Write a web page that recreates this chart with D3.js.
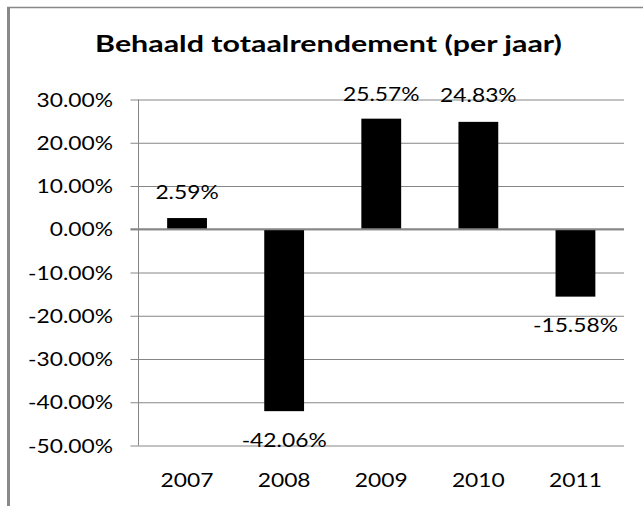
<!DOCTYPE html>
<html>
<head>
<meta charset="utf-8">
<script src="https://cdn.jsdelivr.net/npm/d3@7"></script>
<style>
  html, body { margin: 0; padding: 0; background: #fff; }
  svg { display: block; }
</style>
</head>
<body>
<div id="root"></div>
<script>
// Chart data
var years = ['2007', '2008', '2009', '2010', '2011'];
var returns = [2.59, -42.06, 25.57, 24.83, -15.58];
var yTicks = [30, 20, 10, 0, -10, -20, -30, -40, -50];
var title = 'Behaald totaalrendement (per jaar)';

var width = 643, height = 506;
var plot = { left: 138.5, right: 624, top: 99.5, bottom: 445.5 };
var font = 'Lato, "Open Sans", sans-serif';
var stretch = 1.14;

var svg = d3.select('#root')
  .append('svg')
  .attr('width', width)
  .attr('height', height);

// chart frame (only top and left are visible in the crop)
svg.append('line')
  .attr('x1', 7).attr('x2', width)
  .attr('y1', 7.5).attr('y2', 7.5)
  .attr('stroke', '#888').attr('stroke-width', 1.5);
svg.append('line')
  .attr('x1', 8.5).attr('x2', 8.5)
  .attr('y1', 7).attr('y2', height)
  .attr('stroke', '#888').attr('stroke-width', 3);

var x = d3.scaleBand()
  .domain(years)
  .range([plot.left, plot.right])
  .paddingInner(0.59)
  .paddingOuter(0.295);

var y = d3.scaleLinear()
  .domain([-50, 30])
  .range([plot.bottom, plot.top]);

// helper: text squeezed/stretched horizontally around its anchor
function label(g, tx, ty, txt, anchor, size, weight, sx) {
  return g.append('text')
    .attr('transform', 'translate(' + tx + ',' + ty + ') scale(' + sx + ',1)')
    .attr('text-anchor', anchor)
    .attr('font-family', font)
    .attr('font-size', size)
    .attr('font-weight', weight || 'normal')
    .attr('fill', '#000')
    .text(txt);
}

// gridlines + tick marks
var yAxis = d3.axisLeft(y)
  .tickValues(yTicks)
  .tickSize(-(plot.right - plot.left))
  .tickFormat('');
var gAxis = svg.append('g')
  .attr('transform', 'translate(' + plot.left + ',0)')
  .call(yAxis);
gAxis.select('.domain').remove();
gAxis.selectAll('.tick line')
  .attr('x1', -8)
  .attr('stroke', '#868686')
  .attr('stroke-width', 1);

// vertical axis line
svg.append('line')
  .attr('x1', plot.left).attr('x2', plot.left)
  .attr('y1', y(30)).attr('y2', y(-50))
  .attr('stroke', '#868686');

// y tick labels
var gy = svg.append('g');
yTicks.forEach(function (t) {
  label(gy, 113, y(t) + 7, t.toFixed(2) + '%', 'end', 20, 'normal', stretch);
});

// bars
svg.selectAll('.bar')
  .data(years)
  .enter()
  .append('rect')
  .attr('class', 'bar')
  .attr('x', d => x(d))
  .attr('width', x.bandwidth())
  .attr('y', (d, i) => y(Math.max(0, returns[i])))
  .attr('height', (d, i) => Math.abs(y(returns[i]) - y(0)))
  .attr('fill', '#000');

// zero line on top of bars
svg.append('line')
  .attr('x1', plot.left - 8).attr('x2', plot.right)
  .attr('y1', y(0)).attr('y2', y(0))
  .attr('stroke', '#868686')
  .attr('stroke-width', 2);

// data labels (outside end)
var gl = svg.append('g');
years.forEach(function (d, i) {
  var v = returns[i];
  var cx = x(d) + x.bandwidth() / 2;
  var ty = v >= 0
    ? Math.max(y(v) - 19.5, y(30) + 1.5)
    : y(v) + 35.5;
  label(gl, cx, ty, v.toFixed(2) + '%', 'middle', 20, 'normal', stretch);
});

// category labels
var gx = svg.append('g');
years.forEach(function (d) {
  label(gx, x(d) + x.bandwidth() / 2, 486.5, d, 'middle', 20, 'normal', stretch);
});

// title, stretched to the width seen in the picture
var t = label(svg, 328.5, 52, title, 'middle', 23, 'bold', 1);
var w = t.node().getComputedTextLength();
t.attr('transform', 'translate(328.5,52) scale(' + (467 / w) + ',1)');
</script>
</body>
</html>
